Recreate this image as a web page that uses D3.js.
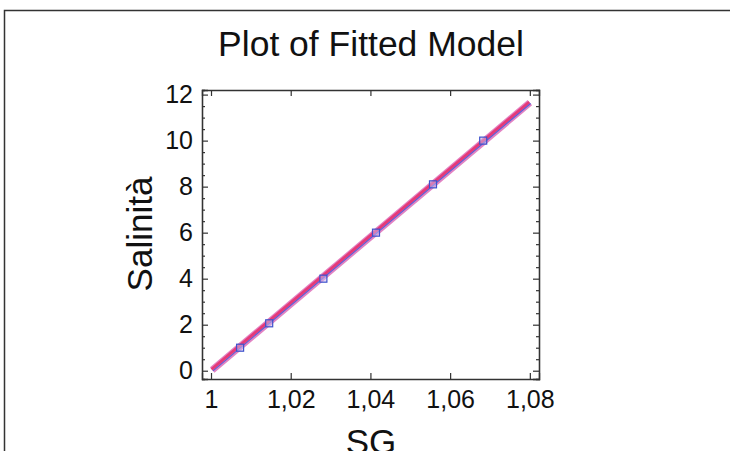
<!DOCTYPE html>
<html>
<head>
<meta charset="utf-8">
<script src="https://cdn.jsdelivr.net/npm/d3@7"></script>
<style>
body { margin: 0; background: #fff; }
text { font-family: "Liberation Sans", Arial, sans-serif; fill: #111; }
</style>
</head>
<body>
<svg id="chart" width="730" height="451"></svg>
<script>
// observed points
var sg = [1.0073, 1.0146, 1.0282, 1.0414, 1.0557, 1.0683]
var salinity = [1.0, 2.06, 4.0, 6.0, 8.1, 10.0]

// fitted line end points
var fitX = [1.0003, 1.08]
var fitY = [0.03, 11.65]

var xTicks = [1, 1.02, 1.04, 1.06, 1.08]
var yTicks = [0, 2, 4, 6, 8, 10, 12]
var yMinor = [0.5, 1, 1.5, 2.5, 3, 3.5, 4.5, 5, 5.5, 6.5, 7, 7.5, 8.5, 9, 9.5, 10.5, 11, 11.5]

var svg = d3.select('#chart')

var pLeft = 202, pRight = 539, pTop = 90, pBottom = 379

var x = d3.scaleLinear().domain([0.99774, 1.0823]).range([pLeft, pRight])
var y = d3.scaleLinear().domain([-0.36, 12.2]).range([pBottom, pTop])

// outer frame
svg.append('rect')
    .attr('x', 4.5).attr('y', 10.5)
    .attr('width', 800).attr('height', 600)
    .attr('fill', 'none')
    .attr('stroke', '#333')
    .attr('stroke-width', 1.5)

svg.append('text')
    .attr('x', 371).attr('y', 56)
    .attr('text-anchor', 'middle')
    .style('font-size', '35.5px')
    .text('Plot of Fitted Model')

var fmt = function(d){ return String(d).replace('.', ',') }

// axes, ticks inward
svg.append('g').attr('transform', 'translate(0,' + pBottom + ')')
    .call(d3.axisBottom(x).tickValues(xTicks).tickSize(-6).tickPadding(11).tickFormat(fmt))
svg.append('g').attr('transform', 'translate(0,' + pTop + ')')
    .call(d3.axisTop(x).tickValues(xTicks).tickSize(-6).tickFormat(''))
svg.append('g').attr('transform', 'translate(' + pLeft + ',0)')
    .call(d3.axisLeft(y).tickValues(yTicks).tickSize(-6).tickPadding(9))
svg.append('g').attr('transform', 'translate(' + pRight + ',0)')
    .call(d3.axisRight(y).tickValues(yTicks).tickSize(-6).tickFormat(''))
svg.append('g').attr('transform', 'translate(' + pLeft + ',0)')
    .call(d3.axisLeft(y).tickValues(yMinor).tickSize(-3).tickFormat(''))
svg.append('g').attr('transform', 'translate(' + pRight + ',0)')
    .call(d3.axisRight(y).tickValues(yMinor).tickSize(-3).tickFormat(''))

svg.selectAll('.domain').attr('stroke', '#333').attr('stroke-width', 1.3)
svg.selectAll('.tick line').attr('stroke', '#333').attr('stroke-width', 1.2)
svg.selectAll('.tick text').style('font-size', '25px').attr('fill', '#111')

// fitted line with limits
var fit = fitX.map(function(d, i){ return [d, fitY[i]] })
var line = d3.line().x(function(d){ return x(d[0]) }).y(function(d){ return y(d[1]) })

svg.append('path').datum(fit).attr('d', line)
    .attr('fill', 'none').attr('stroke', '#e283c3').attr('stroke-width', 7)
svg.append('path').datum(fit).attr('d', line)
    .attr('fill', 'none').attr('stroke', '#e63a78').attr('stroke-width', 3)
    .attr('transform', 'translate(-0.6,-0.6)')
svg.append('path').datum(fit).attr('d', line)
    .attr('fill', 'none').attr('stroke', '#5560d8').attr('stroke-width', 1.1)
    .attr('transform', 'translate(0.8,0.8)')

// points
svg.selectAll('.pt').data(sg).enter().append('rect')
    .attr('class', 'pt')
    .attr('x', function(d){ return x(d) - 3.5 })
    .attr('y', function(d, i){ return y(salinity[i]) - 3.5 })
    .attr('width', 7).attr('height', 7)
    .attr('fill', 'rgba(200,190,240,0.5)')
    .attr('stroke', '#3f52cc')
    .attr('stroke-width', 1.2)

// axis titles
svg.append('text')
    .attr('x', 371).attr('y', 454)
    .attr('text-anchor', 'middle')
    .style('font-size', '35px')
    .text('SG')

svg.append('text')
    .attr('transform', 'translate(152,234) rotate(-90)')
    .attr('text-anchor', 'middle')
    .style('font-size', '35px')
    .text('Salinità')
</script>
</body>
</html>
